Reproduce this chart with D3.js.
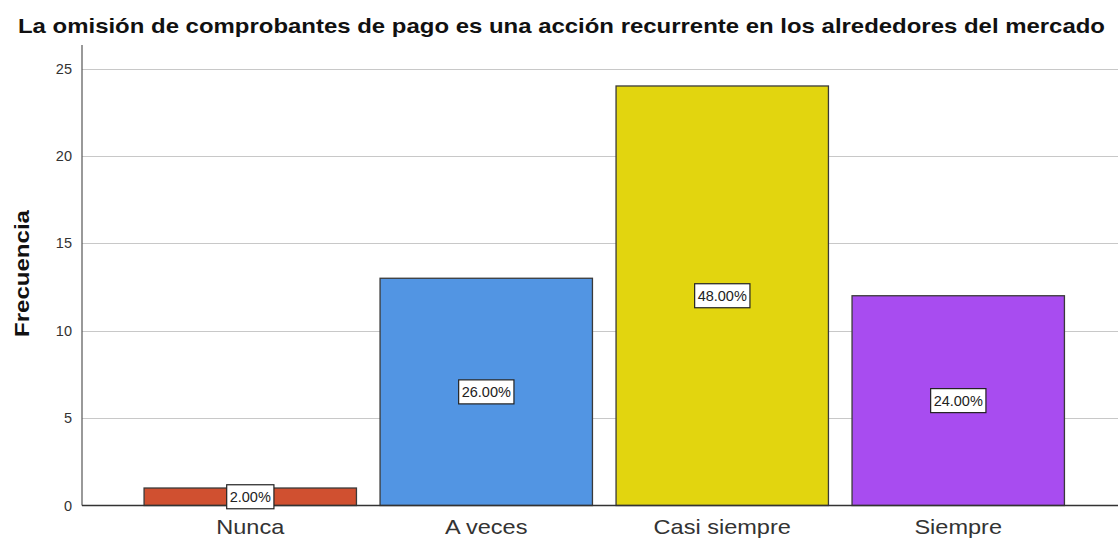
<!DOCTYPE html>
<html><head><meta charset="utf-8">
<script src="https://cdn.jsdelivr.net/npm/d3@7"></script>
<style>body{margin:0;background:#fff}svg{display:block;font-family:"Liberation Sans",Arial,sans-serif}</style>
</head><body><svg id="c" width="1118" height="540"></svg>
<script>
const categories = ["Nunca","A veces","Casi siempre","Siempre"];
const frequencies = [1,13,24,12];
const percentLabels = ["2.00%","26.00%","48.00%","24.00%"];
const barColors = ["#d05030","#5295e3","#e2d50f","#a84cf0"];
const yTicks = [0,5,10,15,20,25];
const title = "La omisión de comprobantes de pago es una acción recurrente en los alrededores del mercado";
const yTitle = "Frecuencia";

const svg = d3.select("#c");
const x0 = 82, yBase = 505.5, yTop = 68.5;
const y = d3.scaleLinear().domain([0,25]).range([yBase, yTop]);
const x = d3.scaleBand().domain(categories).range([x0, 1126.5]).paddingInner(0.1).paddingOuter(0.263);

// gridlines
svg.append("g").selectAll("line").data(yTicks.filter(d=>d>0)).join("line")
  .attr("x1", x0).attr("x2", 1118).attr("y1", d=>Math.round(y(d))+0.5).attr("y2", d=>Math.round(y(d))+0.5)
  .attr("stroke", "#c8c8c8").attr("stroke-width", 1.2);

// y axis
const yAxis = svg.append("g").attr("transform", `translate(${x0},0)`)
  .call(d3.axisLeft(y).tickValues(yTicks).tickSize(0).tickPadding(10));
yAxis.select(".domain").remove();
yAxis.selectAll("text").attr("font-size", 14.5).attr("fill", "#333").attr("font-family", "Liberation Sans, Arial, sans-serif");
svg.append("line").attr("x1", x0).attr("x2", x0).attr("y1", 45).attr("y2", yBase).attr("stroke", "#555").attr("stroke-width", 1.2);

// bars
svg.append("g").selectAll("rect").data(frequencies).join("rect")
  .attr("x", (d,i)=>x(categories[i])).attr("width", x.bandwidth())
  .attr("y", d=>y(d)).attr("height", d=>yBase - y(d))
  .attr("fill", (d,i)=>barColors[i]).attr("stroke", "#3a3a3a").attr("stroke-width", 1.3);

// baseline
svg.append("line").attr("x1", x0).attr("x2", 1118).attr("y1", yBase).attr("y2", yBase).attr("stroke", "#333").attr("stroke-width", 1.3);

// percent labels
const lab = svg.append("g").selectAll("g").data(frequencies).join("g")
  .attr("transform", (d,i)=>`translate(${x(categories[i]) + x.bandwidth()/2},${y(d/2)})`);
lab.append("text").attr("text-anchor","middle").attr("dy","0.36em").attr("font-size", 14.5).attr("fill","#222")
  .text((d,i)=>percentLabels[i]);
lab.each(function(){
  const g = d3.select(this); const b = g.select("text").node().getBBox();
  g.insert("rect","text").attr("x", b.x-3).attr("y", -12).attr("width", b.width+6).attr("height", 24)
    .attr("fill","#fff").attr("stroke","#222").attr("stroke-width",1.2);
});

// x labels
const xl = svg.append("g").selectAll("text").data(categories).join("text")
  .attr("x", d=>x(d)+x.bandwidth()/2).attr("y", 534).attr("text-anchor","middle")
  .attr("font-size", 21).attr("fill","#333").text(d=>d);
xl.each(function(){ const w = this.getComputedTextLength(); d3.select(this).attr("textLength", w*1.12).attr("lengthAdjust","spacingAndGlyphs"); });

// title
svg.append("text").attr("x", 561.5).attr("y", 33).attr("text-anchor","middle")
  .attr("font-size", 21).attr("font-weight","bold").attr("fill","#111")
  .attr("textLength", 1087).attr("lengthAdjust","spacingAndGlyphs").text(title);

// y title
svg.append("text").attr("transform","translate(29,273.5) rotate(-90)").attr("text-anchor","middle")
  .attr("font-size", 20).attr("font-weight","bold").attr("fill","#111")
  .attr("textLength", 127).attr("lengthAdjust","spacingAndGlyphs").text(yTitle);
</script></body></html>
